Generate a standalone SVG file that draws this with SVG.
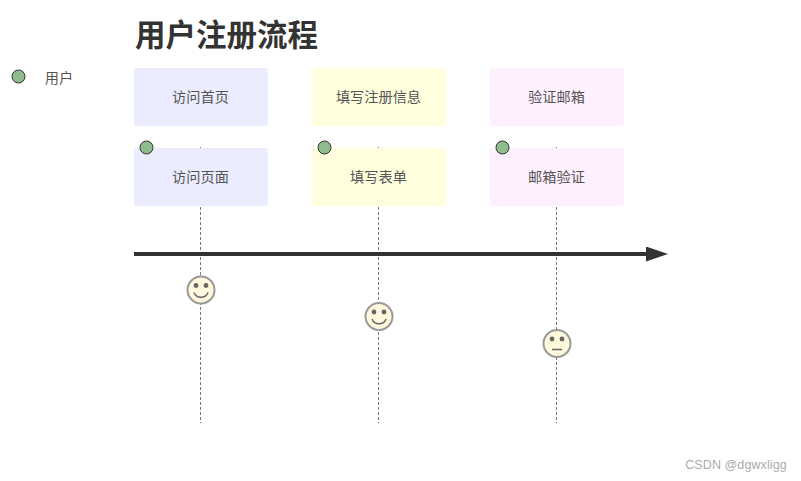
<svg xmlns="http://www.w3.org/2000/svg" width="801" height="481" viewBox="0 0 801 481">
<defs>
<marker id="arrow" markerUnits="userSpaceOnUse" markerWidth="24" markerHeight="16" refX="0" refY="7.5" orient="auto"><path d="M0,0L22,7.5L0,15z" fill="#333"/></marker>
</defs>
<style>
text{font-family:"Noto Sans CJK SC","Liberation Sans",sans-serif;font-size:14.200px;fill:#555;text-anchor:middle}
.s{fill:#ececff}.y{fill:#ffffde}.p{fill:#fff0ff}
.dot{fill:#8fbc8f;stroke:#333;stroke-width:1}
.v{stroke:#777;stroke-width:1;stroke-dasharray:3 2;fill:none}
.face{fill:#fff8dc;stroke:#999;stroke-width:2}
.eye{fill:#666}
.m{fill:none;stroke:#666;stroke-width:1.5}
</style>
<rect width="801" height="481" fill="#fff"/>
<text x="226.500" y="46" style="font-size:30.500px;font-weight:700;fill:#333">用户注册流程</text>
<g id="legend"><circle class="dot" cx="18.500" cy="76.500" r="6.500"/><text x="59" y="83">用户</text></g>
<g id="connectors">
<path class="v" d="M200.500 147V423M378.500 147V423M556.500 147V423"/>
<path d="M134 254H646" stroke="#333" stroke-width="4" fill="none" marker-end="url(#arrow)"/>
</g>
<g id="section1"><rect class="s" x="134" y="68" width="134" height="58" rx="3"/><text x="200.500" y="102">访问首页</text></g>
<g id="section2"><rect class="y" x="312" y="68" width="134" height="58" rx="3"/><text x="378.500" y="102">填写注册信息</text></g>
<g id="section3"><rect class="p" x="490" y="68" width="134" height="58" rx="3"/><text x="556.500" y="102">验证邮箱</text></g>
<g id="task1"><rect class="s" x="134" y="148" width="134" height="58" rx="3"/><circle class="dot" cx="146.500" cy="147.500" r="6.500"/><text x="200.500" y="182">访问页面</text></g>
<g id="task2"><rect class="y" x="312" y="148" width="134" height="58" rx="3"/><circle class="dot" cx="324.500" cy="147.500" r="6.500"/><text x="378.500" y="182">填写表单</text></g>
<g id="task3"><rect class="p" x="490" y="148" width="134" height="58" rx="3"/><circle class="dot" cx="502.500" cy="147.500" r="6.500"/><text x="556.500" y="182">邮箱验证</text></g>
<g id="face1"><circle class="face" cx="201" cy="290" r="13.500"/><circle class="eye" cx="196" cy="285.500" r="2.400"/><circle class="eye" cx="206" cy="285.500" r="2.400"/><path class="m" d="M194 292.500A7.500 7.500 0 0 0 208 292.500"/></g>
<g id="face2"><circle class="face" cx="379" cy="316.500" r="13.500"/><circle class="eye" cx="374" cy="312" r="2.400"/><circle class="eye" cx="384" cy="312" r="2.400"/><path class="m" d="M372 319A7.500 7.500 0 0 0 386 319"/></g>
<g id="face3"><circle class="face" cx="557" cy="343.500" r="13.500"/><circle class="eye" cx="552" cy="339" r="2.400"/><circle class="eye" cx="562" cy="339" r="2.400"/><path class="m" d="M552 349.500H562"/></g>
<text x="736" y="469" style="font-family:'Liberation Sans',sans-serif;font-size:12.500px;fill:#aaa;letter-spacing:.1px">CSDN @dgwxligg</text>
</svg>
